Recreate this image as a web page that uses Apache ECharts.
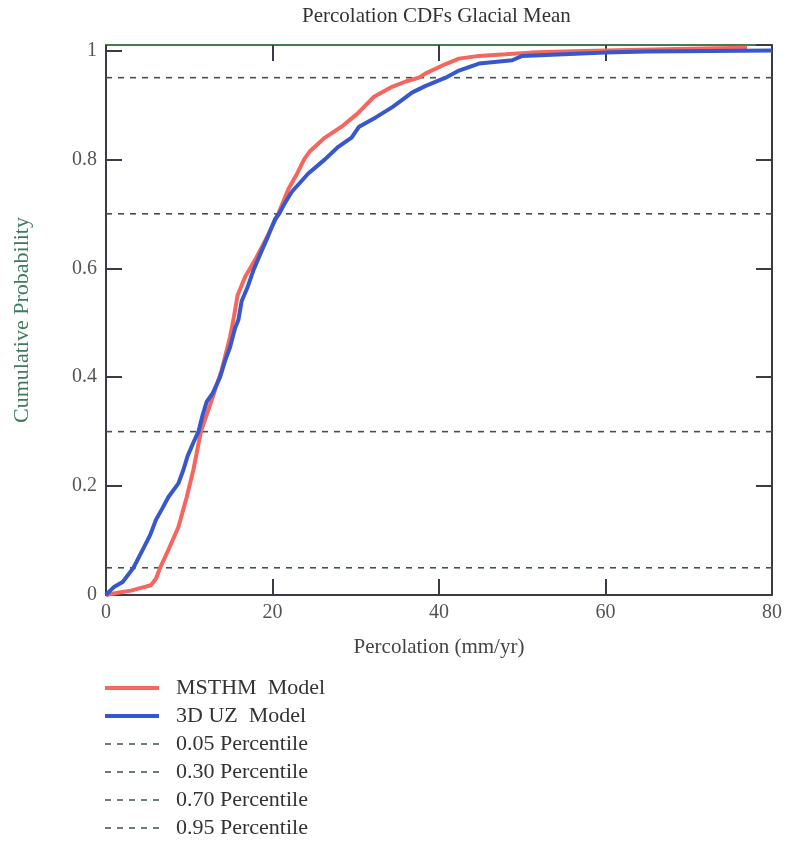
<!DOCTYPE html>
<html>
<head>
<meta charset="utf-8">
<script src="https://cdn.jsdelivr.net/npm/echarts@6/dist/echarts.min.js"></script>
<style>html,body{margin:0;padding:0;background:#fff;}#c{width:792px;height:843px;}</style>
</head>
<body>
<div id="c"></div>
<script>
// Data: [percolation (mm/yr), cumulative probability]
const msthm = [[0,0],[1.4,0.004],[3,0.008],[4.2,0.013],[5.4,0.018],[6,0.03],[6.5,0.05],[7.5,0.083],[8.7,0.125],[9.7,0.18],[10.5,0.23],[11.4,0.30],[12.7,0.358],[13.9,0.413],[14.9,0.474],[15.3,0.505],[15.8,0.55],[16.7,0.584],[17.9,0.615],[19.1,0.65],[20.7,0.70],[21.9,0.745],[23,0.775],[23.8,0.80],[24.5,0.815],[26.3,0.84],[28.3,0.86],[30.2,0.884],[32.2,0.915],[34.2,0.932],[36,0.943],[37.6,0.95],[38.4,0.958],[40.8,0.975],[42.4,0.985],[44.8,0.99],[48,0.993],[51,0.996],[55,0.998],[60,1.0],[70,1.003],[77,1.005]];
const uz3d = [[0,0],[0.5,0.008],[1,0.015],[2,0.024],[2.8,0.04],[3.3,0.05],[4.6,0.089],[5.3,0.11],[6,0.138],[6.8,0.16],[7.5,0.18],[8.7,0.205],[9.3,0.23],[9.8,0.255],[10.5,0.28],[11.1,0.30],[11.6,0.33],[12.1,0.355],[12.8,0.37],[13.7,0.40],[14.3,0.43],[14.9,0.455],[15.5,0.49],[15.9,0.505],[16.3,0.54],[17,0.565],[17.7,0.596],[18.5,0.625],[19.5,0.66],[20.3,0.69],[20.8,0.70],[21.5,0.72],[22.3,0.74],[24.3,0.774],[26.3,0.80],[27.9,0.823],[29.5,0.84],[30.4,0.86],[32.4,0.877],[34.4,0.896],[36.8,0.923],[38.4,0.935],[40.8,0.95],[42.4,0.963],[44.8,0.976],[48.8,0.982],[50,0.99],[55,0.993],[60,0.996],[65,0.998],[80,1.0]];
const percentiles = [0.05, 0.30, 0.70, 0.95];
const percentileNames = ['0.05 Percentile', '0.30 Percentile', '0.70 Percentile', '0.95 Percentile'];
const modelNames = ['MSTHM  Model', '3D UZ  Model'];
const xTicks = [0, 20, 40, 60, 80];
const yTicks = [0, 0.2, 0.4, 0.6, 0.8, 1];

const font = 'Liberation Serif';
const chart = echarts.init(document.getElementById('c'));
const tickStyle = { inside: true, length: 16, lineStyle: { color: '#3b3b48', width: 2 } };
const pctSeries = percentiles.map((p, i) => ({
  name: percentileNames[i], type: 'line', symbol: 'none', silent: true,
  data: [[xTicks[0], p], [xTicks[xTicks.length - 1], p]],
  lineStyle: { color: '#3d5446', width: 1.6, type: [6, 6] },
  itemStyle: { color: '#3d5446' }, z: 1
}));
chart.setOption({
  animation: false,
  title: { text: 'Percolation CDFs Glacial Mean', left: 297, top: 1,
    textStyle: { fontFamily: font, fontSize: 21, fontWeight: 'normal', color: '#333' } },
  grid: { left: 106, right: 20, top: 45, bottom: 248 },
  legend: {
    orient: 'vertical', left: 103, top: 676, padding: 0, height: 167,
    itemWidth: 54, itemHeight: 14, itemGap: 4,
    itemStyle: { opacity: 0 },
    data: modelNames.map(n => ({ name: n, lineStyle: { width: 4 } }))
      .concat(percentileNames.map(n => ({ name: n, lineStyle: { width: 1.5 } }))),
    textStyle: { fontFamily: font, fontSize: 22, color: '#333', lineHeight: 24, padding: [0, 0, 0, 12] }
  },
  xAxis: [{
    type: 'value', min: 0, max: 80, interval: 20,
    name: 'Percolation (mm/yr)', nameLocation: 'middle', nameGap: 42,
    nameTextStyle: { fontFamily: font, fontSize: 21, color: '#444' },
    axisLine: { onZero: false, lineStyle: { color: '#3b3b48', width: 2 } },
    axisTick: tickStyle,
    axisLabel: { fontFamily: font, fontSize: 20, color: '#555', margin: 8 },
    splitLine: { show: false }
  }, {
    type: 'value', min: 0, max: 80, interval: 20, position: 'top',
    axisLine: { show: true, onZero: false, lineStyle: { color: '#4a7a4a', width: 2 } },
    axisTick: tickStyle,
    axisLabel: { show: false }, splitLine: { show: false }
  }],
  yAxis: [{
    type: 'value', min: 0, max: 1.01, interval: 0.2,
    name: 'Cumulative Probability', nameLocation: 'middle', nameGap: 73,
    nameTextStyle: { fontFamily: font, fontSize: 22, color: '#3f7a5c' },
    axisLine: { show: true, onZero: false, lineStyle: { color: '#3b3b48', width: 2 } },
    axisTick: tickStyle,
    axisLabel: { fontFamily: font, fontSize: 20, color: '#555', margin: 9, showMaxLabel: false,
      formatter: v => (yTicks.some(t => Math.abs(t - v) < 1e-6) ? String(+v.toFixed(1)) : '') },
    splitLine: { show: false }
  }, {
    type: 'value', min: 0, max: 1.01, interval: 0.2, position: 'right',
    axisLine: { show: true, onZero: false, lineStyle: { color: '#3b3b48', width: 2 } },
    axisTick: tickStyle,
    axisLabel: { show: false }, splitLine: { show: false }
  }],
  series: pctSeries.concat([
    { name: modelNames[0], type: 'line', symbol: 'none', data: msthm,
      lineStyle: { color: '#f4665e', width: 4 }, itemStyle: { color: '#f4665e' }, z: 3 },
    { name: modelNames[1], type: 'line', symbol: 'none', data: uz3d,
      lineStyle: { color: '#3658cc', width: 4 }, itemStyle: { color: '#3658cc' }, z: 4 }
  ])
});
</script>
</body>
</html>
